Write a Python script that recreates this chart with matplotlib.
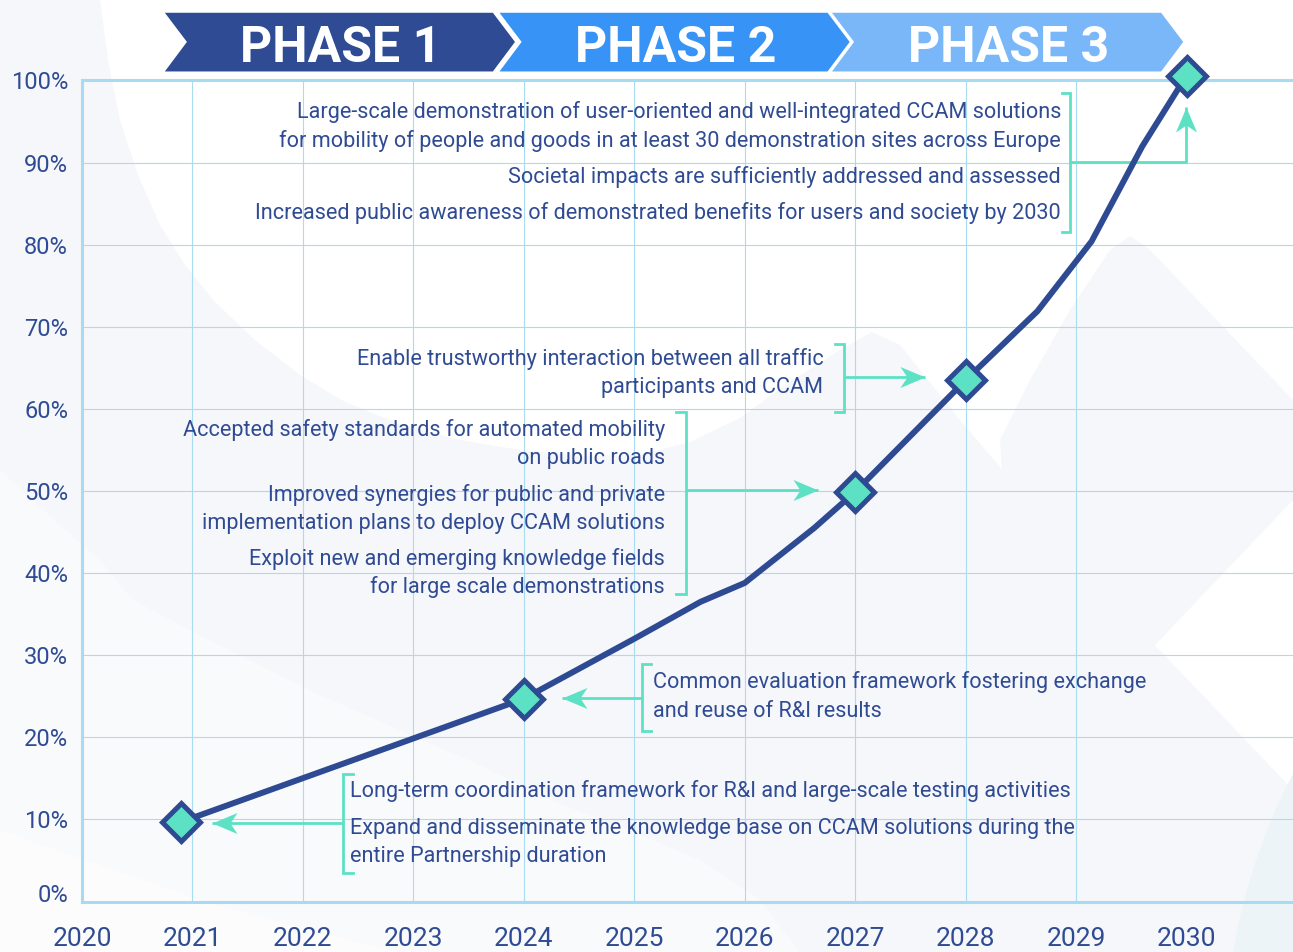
import matplotlib.pyplot as plt
from matplotlib.path import Path
from matplotlib.markers import MarkerStyle
from matplotlib.transforms import Affine2D, ScaledTranslation
from matplotlib.patches import Polygon, Circle

plt.rcParams['font.family'] = ['Roboto', 'DejaVu Sans']

# progress curve (share of partnership goals reached)
years = [2020.9, 2024.0, 2025.0, 2025.6, 2026.0, 2026.63, 2027.0, 2027.36,
         2028.0, 2028.65, 2029.14, 2029.6, 2030.0]
progress = [9.7, 24.7, 32.0, 36.5, 38.8, 45.5, 49.9, 54.8,
            63.5, 71.9, 80.4, 92.0, 100.6]
milestone_years = [2020.9, 2024.0, 2027.0, 2028.0, 2030.0]
milestone_progress = [9.7, 24.7, 49.9, 63.5, 100.6]

x_ticks = list(range(2020, 2031))
x_labels = [str(y) for y in x_ticks]
y_ticks = list(range(0, 101, 10))
y_labels = ['%d%%' % v for v in y_ticks]

phase_labels = ['PHASE 1', 'PHASE 2', 'PHASE 3']
phase_start = [2020.75, 2023.78, 2026.79]
phase_end = [2023.92, 2026.95, 2029.97]

notes_2021 = ['Long-term coordination framework for R&I and large-scale testing activities',
              'Expand and disseminate the knowledge base on CCAM solutions during the',
              'entire Partnership duration']
notes_2024 = ['Common evaluation framework fostering exchange',
              'and reuse of R&I results']
notes_2027 = ['Accepted safety standards for automated mobility',
              'on public roads',
              'Improved synergies for public and private',
              'implementation plans to deploy CCAM solutions',
              'Exploit new and emerging knowledge fields',
              'for large scale demonstrations']
notes_2028 = ['Enable trustworthy interaction between all traffic',
              'participants and CCAM']
notes_2030 = ['Large-scale demonstration of user-oriented and well-integrated CCAM solutions',
              'for mobility of people and goods in at least 30 demonstration sites across Europe',
              'Societal impacts are sufficiently addressed and assessed',
              'Increased public awareness of demonstrated benefits for users and society by 2030']

dark = '#2E4A92'
text_col = '#2F4B93'
teal = '#5DE1C5'
grid_col = '#A9DCF0'
phase_colors = ['#2E4B93', '#3794F6', '#79B7F9']

fig = plt.figure(figsize=(12.93, 9.52), dpi=100)

# faint background shapes (pixel space)
bg = fig.add_axes([0, 0, 1, 1], zorder=-1)
bg.set_xlim(0, 1293)
bg.set_ylim(952, 0)
bg.axis('off')
bg.add_patch(Polygon([(0, 0), (100, 0), (108, 60), (120, 120), (138, 175), (160, 225),
                      (185, 265), (215, 302), (255, 340), (300, 375), (345, 402),
                      (400, 424), (460, 440), (520, 450), (580, 456), (640, 455),
                      (690, 442), (740, 418), (790, 382), (840, 350), (872, 332),
                      (900, 345), (960, 420), (1045, 520), (1150, 640),
                      (1293, 790), (1293, 952), (0, 952)], color='#F6F7FA', lw=0))
bg.add_patch(Polygon([(1000, 440), (1030, 380), (1070, 310), (1110, 250), (1130, 236),
                      (1150, 250), (1293, 400), (1293, 500), (1100, 703), (1010, 600)],
                     color='#F6F7FA', lw=0))
bg.add_patch(Polygon([(0, 470), (60, 525), (100, 560), (133, 600), (190, 630), (250, 660),
                      (320, 695), (400, 730), (480, 765), (550, 800), (630, 830),
                      (700, 860), (760, 900), (800, 952), (0, 952)], color='#F9FAFC', lw=0))
bg.add_patch(Polygon([(0, 830), (100, 865), (200, 900), (300, 928), (400, 952), (0, 952)],
                     color='#FCFCFD', lw=0))
bg.add_patch(Circle((1820, 1050), 595, color='#ECF4F8', lw=0))

ax = fig.add_axes([82 / 1293, 50.5 / 952, 1211 / 1293, 821 / 952])
ax.set_facecolor('none')
ax.set_xlim(2020, 2030.964)
ax.set_ylim(0, 100)

# grid and spines
ax.set_xticks(x_ticks)
ax.set_xticklabels(x_labels)
ax.set_yticks(y_ticks)
ax.set_yticklabels(y_labels)
ax.grid(True, color=grid_col, lw=0.8, zorder=0)
ax.xaxis.get_gridlines()[-1].set_visible(False)
ax.set_axisbelow(True)
for side in ['left', 'bottom', 'top']:
    ax.spines[side].set_color('#A8DBF1')
    ax.spines[side].set_linewidth(2.2)
ax.spines['right'].set_visible(False)
ax.tick_params(axis='x', length=0, pad=18.4, labelsize=19, labelcolor=text_col)
ax.tick_params(axis='y', length=0, pad=10, labelsize=17, labelcolor=text_col)
# the 0% label sits a little above the axis line
zero_lab = ax.yaxis.get_major_ticks()[0].label1
zero_lab.set_transform(zero_lab.get_transform() + ScaledTranslation(0, 0.09, fig.dpi_scale_trans))

# phase banner
for label, s, e, c in zip(phase_labels, phase_start, phase_end, phase_colors):
    d = 0.2
    pts = [(s, 108.25), (e - d, 108.25), (e, 104.7), (e - d, 101.1), (s, 101.1), (s + d, 104.7)]
    ax.add_patch(Polygon(pts, closed=True, facecolor=c, edgecolor='none', clip_on=False, zorder=3))
    ax.text((s + e) / 2 + 0.01, 102.25, label, ha='center', va='baseline', fontsize=36,
            fontweight='bold', color='white', clip_on=False, zorder=4)

# curve + milestones
ax.plot(years, progress, color=dark, lw=4.3, solid_joinstyle='round', clip_on=False, zorder=5)
ax.plot(milestone_years, milestone_progress, ls='none', marker='D', ms=19.5,
        markerfacecolor=teal, markeredgecolor=dark, markeredgewidth=3.6, clip_on=False, zorder=6)

# arrow head shape (tip at origin, pointing right)
head = Path([(0, 0), (-1, 0.42), (-0.72, 0), (-1, -0.42), (0, 0)],
            [Path.MOVETO, Path.LINETO, Path.LINETO, Path.LINETO, Path.CLOSEPOLY])


def arrow(xs, ys, angle):
    ax.plot(xs, ys, color=teal, lw=2, solid_capstyle='butt', clip_on=False, zorder=4)
    m = MarkerStyle(head, transform=Affine2D().rotate_deg(angle))
    ax.plot([xs[-1]], [ys[-1]], ls='none', marker=m, ms=36, color=teal,
            markeredgewidth=0, clip_on=False, zorder=4)


def bracket(x, tick_x, y0, y1):
    ax.plot([tick_x, x, x, tick_x], [y0, y0, y1, y1], color=teal, lw=2,
            solid_joinstyle='miter', clip_on=False, zorder=4)


def lines(x, baselines, texts, ha):
    for t, yb in zip(texts, baselines):
        ax.text(x, yb, t, ha=ha, va='baseline', fontsize=15.6, color=text_col, zorder=4)


# 2021
bracket(2022.363, 2022.454, 3.43, 15.53)
arrow([2022.363, 2021.174], [9.6, 9.6], 180)
lines(2022.426, [12.73, 8.19, 4.85], notes_2021, 'left')

# 2024
bracket(2025.067, 2025.149, 20.77, 28.93)
arrow([2025.067, 2024.343], [24.75, 24.75], 180)
lines(2025.173, [25.97, 22.51], notes_2024, 'left')

# 2027
bracket(2025.469, 2025.378, 37.45, 59.66)
arrow([2025.469, 2026.664], [50.12, 50.12], 0)
lines(2025.278, [56.70, 53.29, 48.82, 45.37, 40.99, 37.54], notes_2027, 'right')

# 2028
bracket(2026.899, 2026.818, 59.66, 67.9)
arrow([2026.899, 2027.632], [63.85, 63.85], 0)
lines(2026.712, [65.35, 61.9], notes_2028, 'right')

# 2030
bracket(2028.945, 2028.870, 81.58, 98.44)
arrow([2028.945, 2029.996, 2029.996], [90.04, 90.04, 96.81], 90)
lines(2028.864, [95.4, 91.94, 87.48, 83.09], notes_2030, 'right')

fig.savefig('out.png', dpi=100)
